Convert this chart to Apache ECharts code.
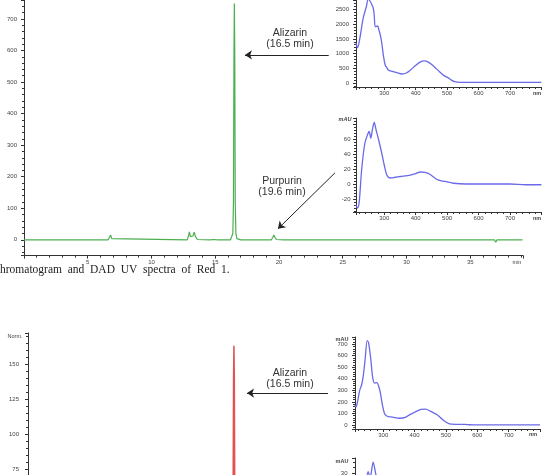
<!DOCTYPE html>
<html><head><meta charset="utf-8">
<script src="https://cdn.jsdelivr.net/npm/echarts@6/dist/echarts.min.js"></script>
<style>html,body{margin:0;padding:0;background:#fff}#c{width:543px;height:475px}</style>
</head><body><div id="c"></div>
<script>
// ---- Red 1 chromatogram (green), time in min, absorbance
const greenTime  = [0,1.7,1.85,2.0,6.6,6.72,6.8,6.88,7.0,12.8,12.9,12.97,13.05,13.15,13.25,13.35,13.45,13.6,14.6,14.75,14.85,15.2,16.2,16.3,16.38,16.43,16.47,16.5,16.53,16.57,16.62,16.7,16.85,17.0,19.4,19.52,19.6,19.68,19.8,20.4,20.55,20.7,23.9,24.0,24.1,36.9,37.0,37.1,39.1];
const greenValue = [0,0,2,0,0,4,15,4,0,0,12,25,10,4,12,24,10,1,0,-2,1,0,0,3,20,120,600,749,600,120,20,4,2,0,0,8,15,8,1,0,3,0,0,3,0,0,-8,0,0];
// ---- Second chromatogram (red), normalised
const redTime  = [0,16.3,16.42,16.47,16.5,16.53,16.58,16.7,39];
const redValue = [0,0,20,140,163,140,20,0,0];
// ---- UV spectra, wavelength in nm
const specAWl  = [210,215,222,233,243,249,256,261,265,268,271,275,279,283,288,292,297,303,308,313,320,329,340,357,370,383,400,415,428,440,452,462,475,490,501,515,524,541,560,600,700,800];
const specAVal = [1360,1200,1500,2210,2600,2850,2760,2650,2540,2300,1915,1920,1940,1800,1600,1360,950,610,520,440,410,385,350,306,340,440,600,720,750,710,620,520,390,250,190,90,46,22,20,20,20,20];
const specBWl  = [210,215,220,228,238,247,252,257,262,268,274,282,292,300,308,319,335,351,383,400,415,430,445,468,485,500,520,560,700,750,800];
const specBVal = [-28,-32,-25,19,54,66,70,61,72,82,72,59,41,25,12,8,9,10,12,14,16,15.5,13,6,4,3,1,0,0,-1,-1];
const specCWl  = [210,213,218,225,231,236,242,249,253,260,266,272,280,285,290,297,304,310,317,330,345,355,370,385,400,420,435,450,473,490,511,530,560,575,600,700,800];
const specCVal = [170,155,200,300,346,418,560,730,715,580,420,363,366,340,290,180,100,80,72,68,60,58,65,90,110,135,138,120,86,45,9,5,5,2,0,0,0];
const specDWl  = [210,230,245,252,258,263,268,274,282,295,310,350,420,500,560,800];
const specDVal = [5,15,27,30.5,28,31,34,31,26,18,10,9,12,3,1,0];
// ---- tick label steps
const chromTimeStep = 5, greenAbsStep = 100, redNormStep = 25, wlStep = 100;
const specAStep = 500, specBStep = 20, specCStep = 100, specDStep = 10;

const pairs = (a, b) => a.map((v, i) => [v, b[i]]);
const AX = '#333';
function axis(grid, min, max, step, margin, labelMax) {
  return {
    type: 'value', gridIndex: grid, min: min, max: max,
    minInterval: step, maxInterval: step,
    splitNumber: Math.max(1, Math.round((max - min) / step)),
    axisLine: { show: true, onZero: false, lineStyle: { color: AX, width: 1 } },
    axisTick: { show: true, length: 3, lineStyle: { color: AX } },
    minorTick: { show: true, splitNumber: 5, length: 2, lineStyle: { color: AX } },
    splitLine: { show: false },
    axisLabel: { fontSize: 6, color: '#444', margin: margin || 4, showMinLabel: false, showMaxLabel: false,
                 fontFamily: 'Liberation Sans',
                 formatter: v => (labelMax != null && v > labelMax) ? '' : String(v) }
  };
}
const arrowLine = (a, b) => ({
  silent: true, symbol: ['none', 'arrow'], symbolSize: 7, animation: false,
  lineStyle: { color: '#222', width: 1, type: 'solid' }, label: { show: false },
  data: [[{ coord: a }, { coord: b }]]
});
const txt = (x, y, text, font, align, color) => ({
  type: 'text', x: x, y: y, silent: true, z: 100,
  style: { text: text, font: font, fill: color || '#333', align: align || 'center',
           textAlign: align || 'center', verticalAlign: 'middle', textVerticalAlign: 'middle', lineHeight: 11.5 }
});
const BLUE = '#6a6ae8';
const G = (o) => Object.assign({ outerBoundsMode: 'none', containLabel: false }, o);

const option = {
  animation: false,
  textStyle: { fontFamily: 'Liberation Sans' },
  grid: [
    G({ left: 24, top: 0, width: 499, height: 255.6 }),
    G({ left: 356, top: 0, width: 185.4, height: 87 }),
    G({ left: 356, top: 118, width: 185.4, height: 94 }),
    G({ left: 28, top: 333, width: 488, height: 260 }),
    G({ left: 355, top: 337, width: 185, height: 92 }),
    G({ left: 355, top: 458, width: 185, height: 92 })
  ],
  xAxis: [
    axis(0, 0, 39.14, chromTimeStep, 4),
    axis(1, 210, 800, wlStep, 3),
    axis(2, 210, 800, wlStep, 3),
    axis(3, 0, 39.1, chromTimeStep, 4),
    axis(4, 210, 800, wlStep, 3),
    axis(5, 210, 800, wlStep, 3)
  ],
  yAxis: [
    axis(0, -50, 760, greenAbsStep, 7),
    axis(1, -136, 2820, specAStep, 7),
    axis(2, -37.3, 88, specBStep, 5.5, 60),
    axis(3, -13.6, 172.1, redNormStep, 9),
    axis(4, -35, 762, specCStep, 7.5),
    axis(5, 1.8, 35.5, specDStep, 7.5)
  ],
  series: [
    { type: 'line', xAxisIndex: 0, yAxisIndex: 0, data: pairs(greenTime, greenValue), symbol: 'none',
      lineStyle: { color: '#4caf50', width: 1.2 },
      markLine: arrowLine([23.9, 586], [17.33, 586]) },
    { type: 'line', xAxisIndex: 0, yAxisIndex: 0, data: [], symbol: 'none',
      markLine: arrowLine([24.39, 212.2], [19.92, 34.8]) },
    { type: 'line', xAxisIndex: 1, yAxisIndex: 1, data: pairs(specAWl, specAVal), symbol: 'none', smooth: 0.3,
      lineStyle: { color: BLUE, width: 1.3 } },
    { type: 'line', xAxisIndex: 2, yAxisIndex: 2, data: pairs(specBWl, specBVal), symbol: 'none', smooth: 0.3,
      lineStyle: { color: BLUE, width: 1.3 } },
    { type: 'line', xAxisIndex: 3, yAxisIndex: 3, data: pairs(redTime, redValue), symbol: 'none',
      lineStyle: { color: '#e35252', width: 1.5 },
      markLine: arrowLine([24.04, 129.2], [17.55, 129.2]) },
    { type: 'line', xAxisIndex: 4, yAxisIndex: 4, data: pairs(specCWl, specCVal), symbol: 'none', smooth: 0.3,
      lineStyle: { color: BLUE, width: 1.3 } },
    { type: 'line', xAxisIndex: 5, yAxisIndex: 5, data: pairs(specDWl, specDVal), symbol: 'none', smooth: 0.3,
      lineStyle: { color: BLUE, width: 1.3 } }
  ],
  graphic: [
    txt(290, 38.5, 'Alizarin\n(16.5 min)', '10.5px Liberation Sans'),
    txt(282, 186.5, 'Purpurin\n(19.6 min)', '10.5px Liberation Sans'),
    txt(290, 378.5, 'Alizarin\n(16.5 min)', '10.5px Liberation Sans'),
    txt(0, 269.5, 'hromatogram  and  DAD  UV  spectra  of  Red  1.', '11.5px Liberation Serif', 'left', '#222'),
    txt(517, 262.6, 'min', '5.5px Liberation Sans', 'center', '#444'),
    txt(537, 93, 'nm', 'bold 5.5px Liberation Sans', 'center', '#444'),
    txt(537, 218, 'nm', 'bold 5.5px Liberation Sans', 'center', '#444'),
    txt(533, 434, 'nm', 'bold 5.5px Liberation Sans', 'center', '#444'),
    txt(345, 119, 'mAU', 'italic bold 5.5px Liberation Sans', 'center', '#444'),
    txt(342, 339, 'mAU', 'bold 5.5px Liberation Sans', 'center', '#444'),
    txt(342, 461, 'mAU', 'bold 5.5px Liberation Sans', 'center', '#444'),
    txt(15, 336, 'Norm.', '5.5px Liberation Sans', 'center', '#444')
  ]
};
const chart = echarts.init(document.getElementById('c'), null, { renderer: 'canvas' });
chart.setOption(option);
</script>
</body></html>
